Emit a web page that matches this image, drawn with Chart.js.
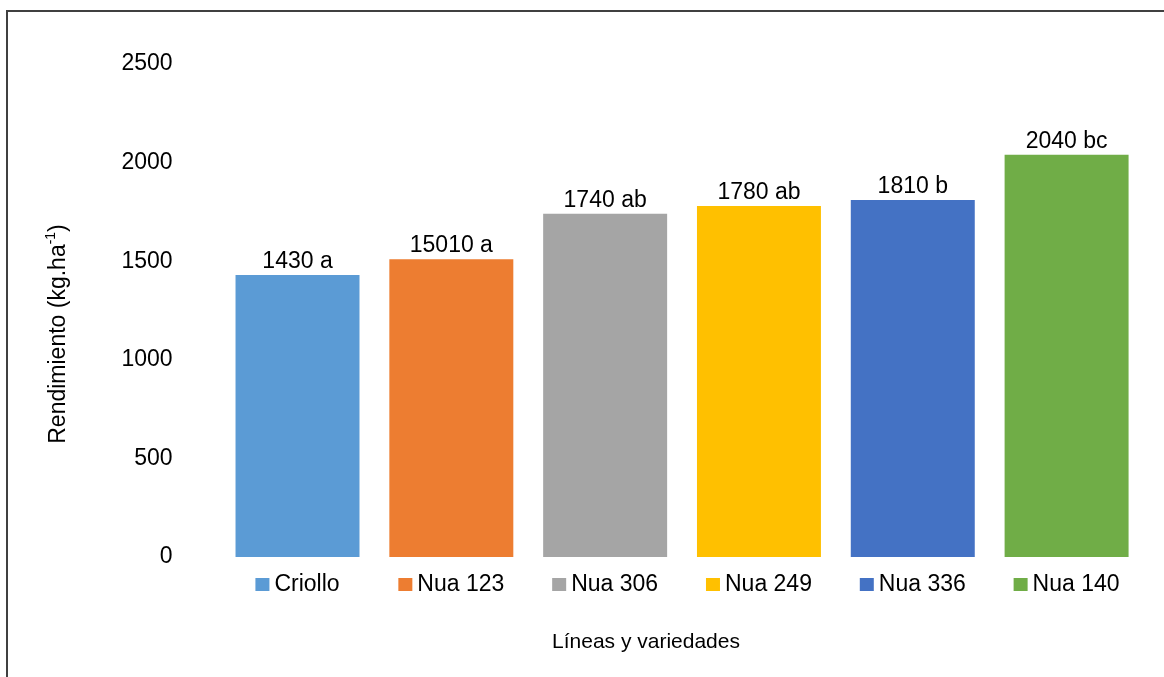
<!DOCTYPE html>
<html>
<head>
<meta charset="utf-8">
<script src="https://cdn.jsdelivr.net/npm/chart.js@4"></script>
<style>
  html, body { margin: 0; padding: 0; background: #fff; overflow: hidden; }
  #wrap { position: relative; width: 1164px; height: 677px; }
  #frame {
    position: absolute; left: 6px; top: 10px; width: 1200px; height: 700px;
    border-left: 2px solid #404040; border-top: 2px solid #404040;
    pointer-events: none;
  }
</style>
</head>
<body>
<div id="wrap">
  <canvas id="chart" width="1164" height="677"></canvas>
  <div id="frame"></div>
</div>
<script>
// datos
const categories = ['Criollo', 'Nua 123', 'Nua 306', 'Nua 249', 'Nua 336', 'Nua 140'];
const yieldValues = [1430, 1510, 1740, 1780, 1810, 2040];
const barLabels = ['1430 a', '15010 a', '1740 ab', '1780 ab', '1810 b', '2040 bc'];
const barColors = ['#5B9BD5', '#ED7D31', '#A5A5A5', '#FFC000', '#4472C4', '#70AD47'];
const yTicks = [0, 500, 1000, 1500, 2000, 2500];

const FONT = '"Liberation Sans", Arial, sans-serif';

// etiquetas encima de las barras
const barLabelPlugin = {
  id: 'barLabels',
  afterDatasetsDraw(chart) {
    const ctx = chart.ctx;
    const meta = chart.getDatasetMeta(0);
    ctx.save();
    ctx.font = '23px ' + FONT;
    ctx.fillStyle = '#000';
    ctx.textAlign = 'center';
    ctx.textBaseline = 'alphabetic';
    meta.data.forEach((bar, i) => {
      ctx.fillText(barLabels[i], bar.x, bar.y - 7);
    });
    ctx.restore();
  }
};

// categorias con cuadro de color + titulos de ejes
const axisTextPlugin = {
  id: 'axisText',
  afterDraw(chart) {
    const ctx = chart.ctx;
    const xScale = chart.scales.x;
    ctx.save();
    ctx.fillStyle = '#000';
    ctx.font = '23px ' + FONT;
    ctx.textBaseline = 'alphabetic';
    ctx.textAlign = 'left';
    categories.forEach((cat, i) => {
      const cx = xScale.getPixelForValue(i);
      const tw = ctx.measureText(cat).width;
      const total = 14 + 5 + tw;
      const start = cx - total / 2;
      ctx.fillStyle = barColors[i];
      ctx.fillRect(start, 578, 14, 13);
      ctx.fillStyle = '#000';
      ctx.fillText(cat, start + 19, 591);
    });

    // titulo eje x
    ctx.font = '21px ' + FONT;
    ctx.textAlign = 'center';
    ctx.fillText('Líneas y variedades', 646, 648);

    // titulo eje y con superindice
    ctx.translate(65, 334);
    ctx.rotate(-Math.PI / 2);
    const main = 'Rendimiento (kg.ha';
    ctx.font = '23px ' + FONT;
    const w1 = ctx.measureText(main).width;
    const w3 = ctx.measureText(')').width;
    ctx.font = '14px ' + FONT;
    const w2 = ctx.measureText('-1').width;
    let x = -(w1 + w2 + w3) / 2;
    ctx.textAlign = 'left';
    ctx.font = '23px ' + FONT;
    ctx.fillText(main, x, 0);
    x += w1;
    ctx.font = '14px ' + FONT;
    ctx.fillText('-1', x, -10);
    x += w2;
    ctx.font = '23px ' + FONT;
    ctx.fillText(')', x, 0);
    ctx.restore();
  }
};

new Chart(document.getElementById('chart'), {
  type: 'bar',
  data: {
    labels: categories,
    datasets: [{
      data: yieldValues,
      backgroundColor: barColors,
      borderWidth: 0,
      categoryPercentage: 1,
      barPercentage: 0.806
    }]
  },
  options: {
    responsive: false,
    animation: false,
    devicePixelRatio: 1,
    layout: { padding: { top: 64, right: 20.5, bottom: 0, left: 0 } },
    plugins: {
      legend: { display: false },
      tooltip: { enabled: false }
    },
    scales: {
      x: {
        grid: { display: false },
        border: { display: false },
        ticks: { display: false },
        afterFit(scale) { scale.height = 120; }
      },
      y: {
        min: 0,
        max: 2500,
        grid: { display: false, drawTicks: false },
        border: { display: false },
        afterBuildTicks(scale) { scale.ticks = yTicks.map(v => ({ value: v })); },
        afterFit(scale) { scale.width = 220.6; },
        ticks: {
          padding: 48,
          color: '#000',
          font: { family: FONT, size: 23 },
          callback: (value) => String(value)
        }
      }
    }
  },
  plugins: [barLabelPlugin, axisTextPlugin]
});
</script>
</body>
</html>
